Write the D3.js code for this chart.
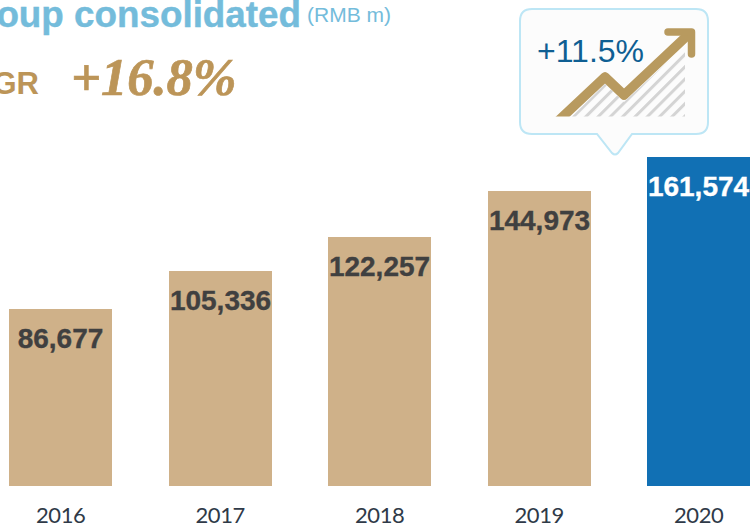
<!DOCTYPE html>
<html><head><meta charset="utf-8">
<script src="https://cdn.jsdelivr.net/npm/d3@7"></script>
<style>html,body{margin:0;padding:0;background:#fff;overflow:hidden}svg{display:block}text{font-family:"Liberation Sans",Arial,sans-serif}</style>
</head><body><svg id="c" width="751" height="524"></svg>
<script>
const years=["2016","2017","2018","2019","2020"];
const revenue=[86677,105336,122257,144973,161574];
const barColors=["#cfb189","#cfb189","#cfb189","#cfb189","#1170b4"];
const labelColors=["#404040","#404040","#404040","#404040","#ffffff"];

const svg=d3.select("#c");
const x=d3.scaleBand().domain(years).range([-19.05,778.45]).paddingInner(0.354).paddingOuter(0.177);
const y=d3.scaleLinear().domain([0,161574]).range([485.9,156.9]);
const bx=d=>Math.round(x(d));
const by=d=>Math.round(y(d));

svg.append("g").selectAll("rect").data(revenue).join("rect")
 .attr("x",(d,i)=>bx(years[i])).attr("width",103)
 .attr("y",d=>by(d)).attr("height",d=>486-by(d)).attr("fill",(d,i)=>barColors[i]);
svg.append("g").selectAll("text").data(revenue).join("text")
 .attr("x",(d,i)=>bx(years[i])+51.5).attr("y",d=>by(d)+38.5)
 .attr("text-anchor","middle").attr("font-size",28).attr("font-weight","bold")
 .attr("fill",(d,i)=>labelColors[i]).attr("stroke",(d,i)=>labelColors[i]).attr("stroke-width",0.35)
 .text(d=>d3.format(",")(d));

const ax=svg.append("g").attr("transform","translate(0,486)").call(d3.axisBottom(x).tickSize(0).tickPadding(21.4));
ax.select(".domain").remove();
ax.selectAll("text").attr("font-size",22).attr("fill","#2f3a48").style("font-family","Lato").style("letter-spacing","-0.4px");

// Title
svg.append("text").attr("x",301).attr("y",27).attr("text-anchor","end").attr("font-size",36.8).attr("font-weight","bold")
 .attr("fill","#74bcdb").attr("stroke","#74bcdb").attr("stroke-width",0.4).text("Group consolidated");
svg.append("text").attr("x",307).attr("y",22).attr("font-size",21).attr("fill","#74bcdb").text("(RMB m)");
svg.append("text").attr("x",39).attr("y",94).attr("text-anchor","end").attr("font-size",31).attr("font-weight","bold").attr("fill","#bc9558").text("CAGR");
svg.append("text").attr("x",71).attr("y",95).attr("font-size",52.5).attr("font-weight","bold").attr("font-style","italic")
 .attr("fill","#bc9558").attr("stroke","#bc9558").attr("stroke-width",0.7).style("font-family","'Liberation Serif',serif").text("+16.8%");

// Callout
svg.append("path").attr("d","M532,9H696Q708,9 708,21V122Q708,134 696,134H632L618,153Q615,156 612,153L597,134H532Q520,134 520,122V21Q520,9 532,9Z")
 .attr("fill","#fcfcfc").attr("stroke","#bde6f5").attr("stroke-width",2);
const defs=svg.append("defs");
defs.append("pattern").attr("id","hatch").attr("patternUnits","userSpaceOnUse").attr("width",8.7).attr("height",8.7)
 .attr("patternTransform","rotate(45 600 100)").append("rect").attr("width",3).attr("height",8.7).attr("fill","#d4d4d4");
svg.append("path").attr("d","M572,116.5L605,84L624,102L685,46V116.5Z").attr("fill","url(#hatch)");
defs.append("clipPath").attr("id","iconclip").append("rect").attr("x",550).attr("y",20).attr("width",150).attr("height",96.5);
svg.append("path").attr("d","M557,122L605,77L624,95L690,33").attr("fill","none").attr("stroke","#b89a5f").attr("stroke-width",9.5).attr("stroke-linejoin","round").attr("clip-path","url(#iconclip)");
svg.append("path").attr("d","M668,32H691.5V54").attr("fill","none").attr("stroke","#b89a5f").attr("stroke-width",7.5).attr("stroke-linecap","round").attr("stroke-linejoin","round");
svg.append("text").attr("x",537).attr("y",62).attr("font-size",32).attr("fill","#0f5f93").text("+11.5%");
</script></body></html>
